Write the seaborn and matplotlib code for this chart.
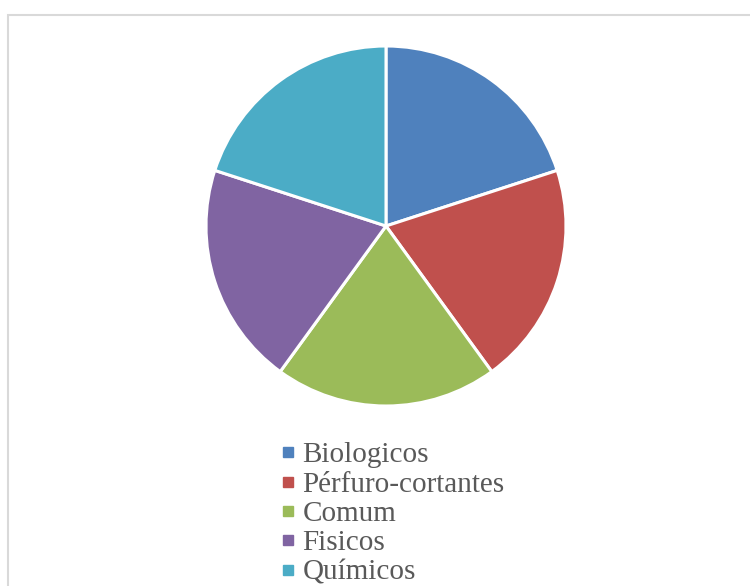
import matplotlib
matplotlib.use("Agg")
import matplotlib.pyplot as plt
import seaborn as sns
from matplotlib.lines import Line2D
from matplotlib.patches import Rectangle

categories = ["Biologicos", "Pérfuro-cortantes", "Comum", "Fisicos", "Químicos"]
values = [1, 1, 1, 1, 1]
colors = ["#4F81BD", "#C0504D", "#9BBB59", "#8064A2", "#4BACC6"]

sns.set_style("white")
plt.rcParams["font.family"] = ["Liberation Serif", "DejaVu Serif"]

W, H = 750, 586
fig = plt.figure(figsize=(W / 100, H / 100), dpi=100)

# outer chart frame
fig.patches.append(Rectangle((8 / W, -0.1), 1.2, (H - 15) / H + 0.1,
                             transform=fig.transFigure, fill=False,
                             edgecolor="#D9D9D9", linewidth=1.5))

cx, cy, r = 386, 226, 180
ax = fig.add_axes([(cx - r) / W, (H - cy - r) / H, 2 * r / W, 2 * r / H])
palette = sns.color_palette(colors)
ax.pie(values, colors=palette, startangle=90, counterclock=False,
       wedgeprops=dict(edgecolor="white", linewidth=2.2))
ax.set_xlim(-1, 1)
ax.set_ylim(-1, 1)
ax.axis("off")

handles = [Line2D([], [], linestyle="none", marker="s", markersize=7,
                  markerfacecolor=c, markeredgecolor=c) for c in palette]
leg = fig.legend(handles, categories, loc="upper left",
                 bbox_to_anchor=(281 / W, 1 - 442 / H),
                 frameon=False, fontsize=21, labelcolor="#595959",
                 handlelength=0.5, handletextpad=0.23, labelspacing=0.1,
                 borderpad=0, borderaxespad=0)

fig.savefig("out.png", dpi=100)
